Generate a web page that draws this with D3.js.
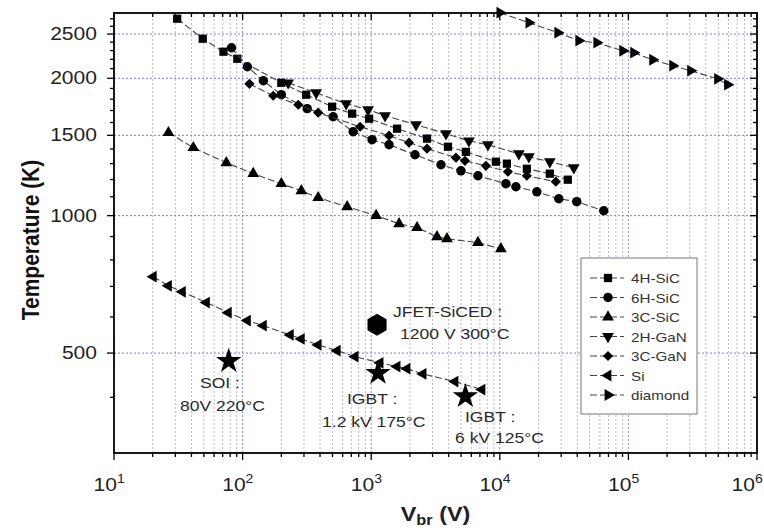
<!DOCTYPE html>
<html>
<head>
<meta charset="utf-8">
<script src="https://cdn.jsdelivr.net/npm/d3@7/dist/d3.min.js"></script>
<style>
body { margin: 0; background: #fff; }
text { font-family: "Liberation Sans", Arial, sans-serif; }
</style>
</head>
<body>
<div class="card"></div>
<script>
/* global d3*/

// breakdown voltage (V) and temperature (K)
var sic4hV = [31, 49, 71, 91, 200, 312, 497, 711, 963, 1589, 2717, 3954, 5455, 9326, 11355, 16230, 24490, 33790];
var sic4hT = [2701, 2442, 2287, 2207, 1955, 1841, 1733, 1673, 1631, 1551, 1475, 1416, 1380, 1313, 1300, 1267, 1236, 1199];

var sic6hV = [82, 109, 145, 200, 318, 506, 724, 1016, 1377, 2191, 3488, 4989, 6761, 11155, 13340, 19410, 28760, 39690, 64300];
var sic6hT = [2333, 2120, 1975, 1841, 1716, 1647, 1527, 1467, 1430, 1360, 1293, 1254, 1223, 1175, 1157, 1128, 1089, 1073, 1025];

var sic3cV = [26.5, 41.4, 74.7, 121, 200, 286, 387, 650, 1092, 1647, 2272, 3248, 3885, 6761, 10200];
var sic3cT = [1520, 1409, 1306, 1236, 1175, 1134, 1095, 1046, 1000, 960, 941, 899, 890, 873, 846];

var gan2hV = [226, 373, 639, 946, 1282, 2232, 3815, 5756, 8084, 14070, 16830, 24490, 37610];
var gan2hT = [1955, 1859, 1759, 1707, 1656, 1582, 1512, 1459, 1430, 1367, 1346, 1313, 1274];

var gan3cV = [113, 173, 271, 387, 820, 1377, 1969, 2717, 4562, 5358, 7798, 11560, 16230, 27270];
var gan3cT = [1945, 1831, 1750, 1681, 1566, 1497, 1445, 1402, 1340, 1319, 1286, 1248, 1223, 1187];

var siV = [20.2, 26.5, 34, 52.3, 77.4, 109, 145, 235, 286, 387, 544, 750, 1172, 1589, 1900, 2529, 4481, 7261];
var siT = [735, 702, 681, 645, 613, 589, 574, 548, 537, 521, 506, 491, 476, 467, 462, 450, 433, 416];

var diamondV = [10020, 16830, 28250, 41110, 56740, 90300, 109900, 154400, 220800, 304500, 493500, 590200];
var diamondT = [2784, 2647, 2517, 2417, 2393, 2298, 2275, 2196, 2131, 2078, 1995, 1936];

// single devices
var deviceNames = ["SOI", "IGBT 1.2kV", "IGBT 6kV"];
var deviceV = [78, 1130, 5400];
var deviceT = [480, 452, 402];
var jfetV = 1110, jfetT = 577;

var yMajor = [500, 1000, 1500, 2000, 2500];
var xMajor = [1e1, 1e2, 1e3, 1e4, 1e5, 1e6];

var series = [
  {name: "4H-SiC", v: sic4hV, t: sic4hT, shape: d3.symbolSquare, size: 68, rot: 0},
  {name: "6H-SiC", v: sic6hV, t: sic6hT, shape: d3.symbolCircle, size: 70, rot: 0},
  {name: "3C-SiC", v: sic3cV, t: sic3cT, shape: d3.symbolTriangle, size: 60, rot: 0},
  {name: "2H-GaN", v: gan2hV, t: gan2hT, shape: d3.symbolTriangle, size: 60, rot: 180},
  {name: "3C-GaN", v: gan3cV, t: gan3cT, shape: d3.symbolSquare, size: 52, rot: 45},
  {name: "Si", v: siV, t: siT, shape: d3.symbolTriangle, size: 60, rot: -90},
  {name: "diamond", v: diamondV, t: diamondT, shape: d3.symbolTriangle, size: 60, rot: 90}
];

var width = 764,
    height = 530,
    margin = {top: 13, right: 7, bottom: 77, left: 114};

var svg = d3.select(".card").append("svg")
    .attr("width", width)
    .attr("height", height);

var x = d3.scaleLog().domain([10, 1e6]).range([margin.left, width - margin.right]);
var y = d3.scaleLog().domain([302, 2780]).range([height - margin.bottom, margin.top]);

var x0 = x.range()[0], x1 = x.range()[1], y0 = y.range()[0], y1 = y.range()[1];
var stretch = 1.17;

// text helper, the figure's lettering is a bit wide
var label = function(g, px, py, str, size, anchor, weight) {
    return g.append("text")
        .attr("transform", "translate(" + px + "," + py + ") scale(" + stretch + ",1)")
        .attr("text-anchor", anchor || "start")
        .attr("font-size", size)
        .attr("font-weight", weight || "normal")
        .attr("fill", "#222")
        .text(str);
};

// grid
var xGrid = x.ticks().filter(function(d) { return d > 10 && d < 1e6; });
svg.append("g").selectAll("line").data(xGrid).enter().append("line")
    .attr("x1", function(d) { return x(d); })
    .attr("x2", function(d) { return x(d); })
    .attr("y1", y0).attr("y2", y1)
    .attr("stroke", function(d) { return xMajor.indexOf(d) >= 0 ? "#8c8cd8" : "#b8b8dc"; })
    .attr("stroke-width", 1)
    .attr("stroke-dasharray", "2,2");

svg.append("g").selectAll("line").data(yMajor).enter().append("line")
    .attr("x1", x0).attr("x2", x1)
    .attr("y1", function(d) { return y(d); })
    .attr("y2", function(d) { return y(d); })
    .attr("stroke", "#7a7ad6")
    .attr("stroke-width", 1)
    .attr("stroke-dasharray", "2,2");

// ticks
var xTicks = x.ticks();
var isMajorX = function(d) { return xMajor.indexOf(d) >= 0; };
var ticks = svg.append("g").attr("stroke", "#000").attr("stroke-width", 1.3);
ticks.selectAll(".xb").data(xTicks).enter().append("line")
    .attr("x1", function(d) { return x(d); }).attr("x2", function(d) { return x(d); })
    .attr("y1", y0).attr("y2", function(d) { return y0 + (isMajorX(d) ? 7 : 4); });
ticks.selectAll(".xt").data(xTicks).enter().append("line")
    .attr("x1", function(d) { return x(d); }).attr("x2", function(d) { return x(d); })
    .attr("y1", y1).attr("y2", function(d) { return y1 + (isMajorX(d) ? 7 : 4); });

var yTicks = d3.range(400, 2800, 100);
var isMajorY = function(d) { return yMajor.indexOf(d) >= 0; };
ticks.selectAll(".yl").data(yTicks).enter().append("line")
    .attr("y1", function(d) { return y(d); }).attr("y2", function(d) { return y(d); })
    .attr("x1", x0).attr("x2", function(d) { return x0 - (isMajorY(d) ? 7 : 4); });
ticks.selectAll(".yr").data(yTicks).enter().append("line")
    .attr("y1", function(d) { return y(d); }).attr("y2", function(d) { return y(d); })
    .attr("x1", x1).attr("x2", function(d) { return x1 - (isMajorY(d) ? 7 : 4); });

// frame
svg.append("rect")
    .attr("x", x0).attr("y", y1)
    .attr("width", x1 - x0).attr("height", y0 - y1)
    .attr("fill", "none").attr("stroke", "#000").attr("stroke-width", 1.8);

// tick labels
yMajor.forEach(function(d) {
    label(svg, 97, y(d) + 6, d, 18, "end");
});
xMajor.forEach(function(d, i) {
    // "10" ends just right of the tick, exponent follows; last one kept inside the page
    var px = Math.min(x(d) + 3, width - 9);
    label(svg, px, 491, "10", 18, "end");
    label(svg, px, 483, i + 1, 12, "start");
});

// axis titles
svg.append("text")
    .attr("transform", "translate(39," + ((y1 + y0) / 2 + 7) + ") rotate(-90) scale(1,1.15)")
    .attr("text-anchor", "middle")
    .attr("font-size", 21).attr("font-weight", "bold").attr("fill", "#111")
    .text("Temperature (K)");

var xt = label(svg, (x0 + x1) / 2, 521, "V", 20, "middle", "bold");
xt.append("tspan").attr("font-size", 14).attr("dy", 4).text("br");
xt.append("tspan").attr("dy", -4).text(" (V)");

// series lines and markers
var line = d3.line()
    .x(function(d) { return x(d[0]); })
    .y(function(d) { return y(d[1]); });

series.forEach(function(s) {
    var pts = s.v.map(function(v, i) { return [v, s.t[i]]; });
    svg.append("path")
        .attr("d", line(pts))
        .attr("fill", "none")
        .attr("stroke", "#444")
        .attr("stroke-width", 1.1)
        .attr("stroke-dasharray", "7,3");
    svg.append("g").selectAll("path").data(pts).enter().append("path")
        .attr("d", d3.symbol().type(s.shape).size(s.size))
        .attr("transform", function(d) {
            return "translate(" + x(d[0]) + "," + y(d[1]) + ") rotate(" + s.rot + ")";
        })
        .attr("fill", "#000");
});

// stars for devices
svg.append("g").selectAll("path").data(deviceV).enter().append("path")
    .attr("d", d3.symbol().type(d3.symbolStar).size(200))
    .attr("transform", function(d, i) {
        return "translate(" + x(d) + "," + y(deviceT[i]) + ")";
    })
    .attr("fill", "#000");

// JFET hexagon
var hex = d3.range(6).map(function(k) {
    var a = Math.PI / 3 * k;
    return [Math.sin(a) * 11, -Math.cos(a) * 11];
});
svg.append("path")
    .attr("d", d3.line()(hex) + "Z")
    .attr("transform", "translate(" + x(jfetV) + "," + y(jfetT) + ")")
    .attr("fill", "#000");

// annotations
var notes = svg.append("g");
label(notes, 200, 388, "SOI :", 15);
label(notes, 180, 411, "80V 220°C", 15);
label(notes, 393, 317, "JFET-SiCED :", 15);
label(notes, 400, 339, "1200 V 300°C", 15);
label(notes, 347, 404, "IGBT :", 15);
label(notes, 322, 427, "1.2 kV 175°C", 15);
label(notes, 465, 422, "IGBT :", 15);
label(notes, 455, 443, "6 kV 125°C", 15);
notes.selectAll("text").attr("fill", "#2a2a2a");

// legend
var leg = svg.append("g");
leg.append("rect")
    .attr("x", 581).attr("y", 258).attr("width", 116).attr("height", 156)
    .attr("fill", "#fff").attr("stroke", "#777").attr("stroke-width", 1);
series.forEach(function(s, i) {
    var ly = 278 + i * 19.5;
    leg.append("line")
        .attr("x1", 590).attr("x2", 624).attr("y1", ly).attr("y2", ly)
        .attr("stroke", "#444").attr("stroke-width", 1.1).attr("stroke-dasharray", "7,3");
    leg.append("path")
        .attr("d", d3.symbol().type(s.shape).size(s.size))
        .attr("transform", "translate(608," + ly + ") rotate(" + s.rot + ")")
        .attr("fill", "#000");
    label(leg, 631, ly + 5, s.name, 13).attr("fill", "#333");
});
</script>
</body>
</html>
